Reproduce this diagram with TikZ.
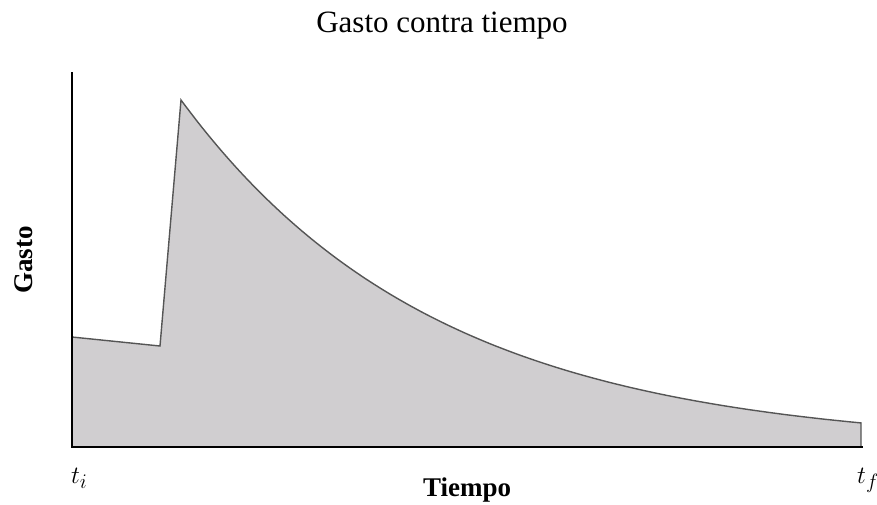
\documentclass[tikz,border=0pt]{standalone}
\usepackage{fontspec}
\setmainfont{Liberation Serif}
\definecolor{areafill}{RGB}{208,206,208}
\definecolor{curveline}{RGB}{85,85,85}
\begin{document}
\begin{tikzpicture}[x=1pt,y=-1pt,
  axisline/.style={line width=2.6pt,black},
  curvestyle/.style={line width=1.4pt,curveline,line join=miter},
  lbl/.style={inner sep=0pt,anchor=base}]
\useasboundingbox (0,0) rectangle (877,504);
% filled area
\fill[areafill] (72,447) -- (72,337) -- (160,346) -- (181,100)
  -- plot[domain=181:861,samples=120,smooth] ({\x},{447-347*exp(-0.003929*(\x-181))})
  -- (861,447) -- cycle;
% outline of the curve
\draw[curvestyle] (72,337) -- (160,346) -- (181,100)
  -- plot[domain=181:861,samples=120,smooth] ({\x},{447-347*exp(-0.003929*(\x-181))})
  -- (861,447);
% axes
\coordinate (ytop) at (72,73);
\coordinate (orig) at (72,447);
\coordinate (xend) at (862,447);
\draw[axisline,line cap=rect] (ytop) -- (orig) -- (xend);
% texts
\node[lbl] (title) at (442,32) {\fontsize{31}{36}\selectfont Gasto contra tiempo};
\node[lbl] (xlab) at (467,496) {\fontsize{27}{30}\selectfont\bfseries Tiempo};
\node[lbl,rotate=90] (ylab) at (32,260) {\fontsize{27}{30}\selectfont\bfseries Gasto};
\node[lbl,anchor=base west] (ti) at (71,483) {\fontsize{28}{32}\selectfont$t_i$};
\node[lbl,anchor=base west] (tf) at (857,483) {\fontsize{28}{32}\selectfont$t_f$};
\end{tikzpicture}
\end{document}
